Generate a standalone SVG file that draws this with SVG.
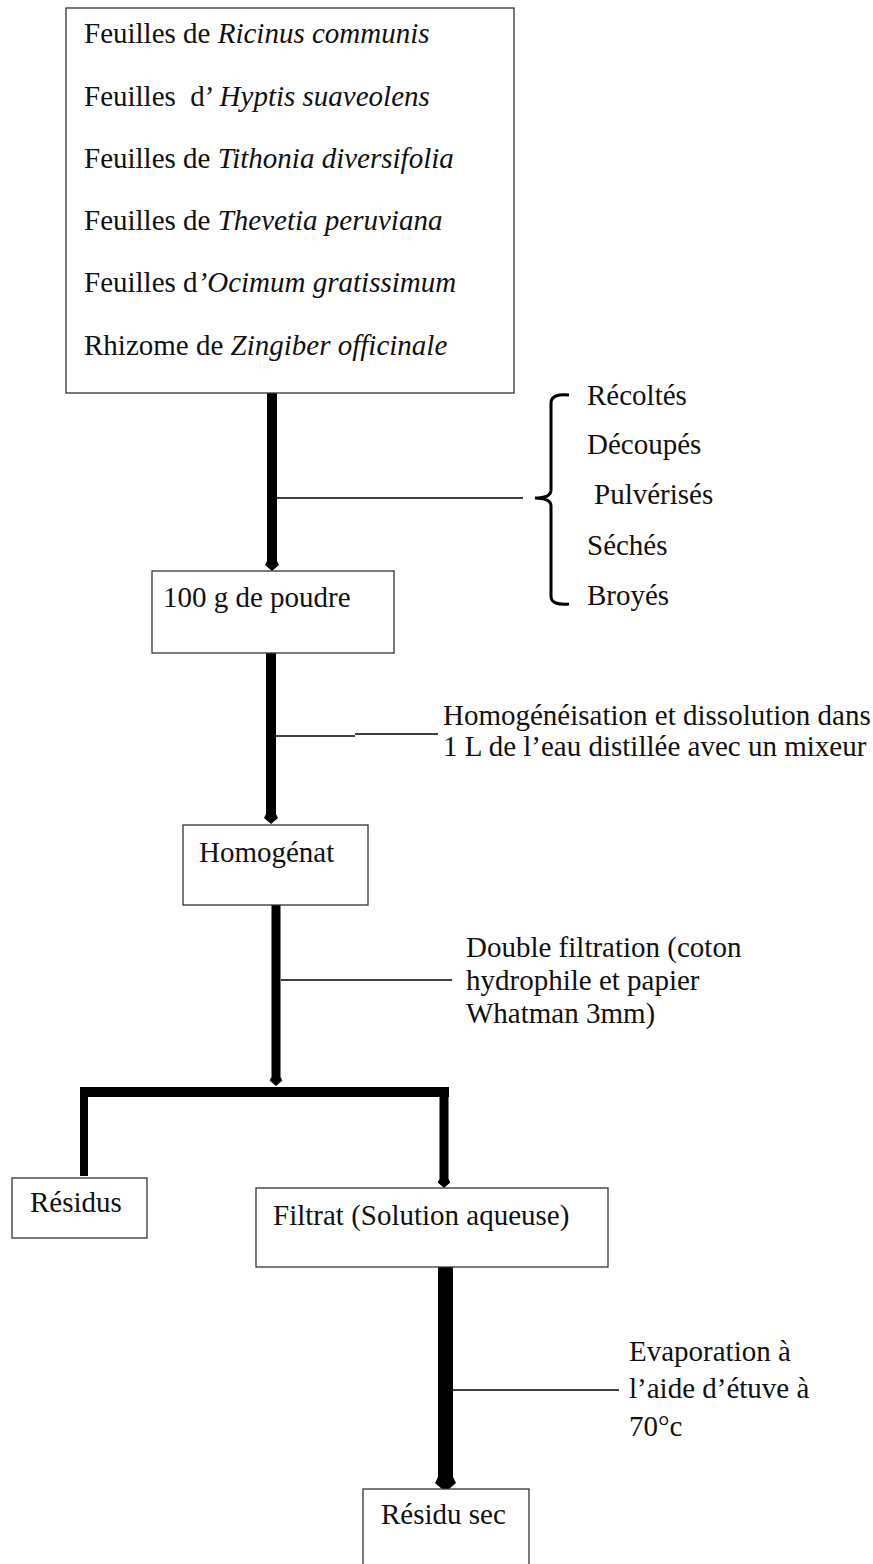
<svg xmlns="http://www.w3.org/2000/svg" width="873" height="1564" viewBox="0 0 873 1564">
<style>
text{font-family:"Liberation Serif","Times New Roman",serif;font-size:29px;fill:#111}
.it{font-style:italic}
.box{fill:#fff;stroke:#333;stroke-width:1.3}
.thick{fill:none;stroke:#000;stroke-linecap:butt}
.thin{fill:none;stroke:#000;stroke-width:1.5}
.brace{fill:none;stroke:#000;stroke-width:3}
</style>
<defs>
<marker id="tip" markerUnits="strokeWidth" markerWidth="1" markerHeight="1.5" viewBox="0 0 10 15" refX="0" refY="7.5" orient="auto" overflow="visible">
<path d="M0,2.5 L4,0.5 L10,7.5 L4,14.5 L0,12.5 Z" fill="#000"/>
</marker>
</defs>
<rect width="873" height="1564" fill="#fff"/>
<g id="connectors">
<path class="thick" d="M272,393 V561" stroke-width="10" marker-end="url(#tip)"/>
<path class="thin" d="M277,498 H523" stroke-width="3"/>
<path class="brace" d="M569,395 C558,394 551,396 551,403 V490 C551,496 545,498 535,498 C545,498 551,500 551,506 V596 C551,603 558,605 569,604"/>
<path class="thick" d="M271,653 V814" stroke-width="10" marker-end="url(#tip)"/>
<path class="thin" d="M276,736 H355 M355,734 H438"/>
<path class="thick" d="M276,905 V1077" stroke-width="9" marker-end="url(#tip)"/>
<path class="thin" d="M281,980 H452"/>
<path class="thick" d="M82,1092 H449" stroke-width="10"/>
<path class="thick" d="M84,1087 V1176" stroke-width="8"/>
<path class="thick" d="M444,1087 V1179" stroke-width="9" marker-end="url(#tip)"/>
<path class="thick" d="M445.5,1267 V1477" stroke-width="15" marker-end="url(#tip)"/>
<path class="thin" d="M453,1390 H619"/>
</g>
<g id="plantes">
<rect class="box" x="66" y="8" width="448" height="385"/>
<text x="84" y="43">Feuilles de <tspan class="it">Ricinus communis</tspan></text>
<text x="84" y="106" xml:space="preserve">Feuilles  d’ <tspan class="it">Hyptis suaveolens</tspan></text>
<text x="84" y="168">Feuilles de <tspan class="it">Tithonia diversifolia</tspan></text>
<text x="84" y="230">Feuilles de <tspan class="it">Thevetia peruviana</tspan></text>
<text x="84" y="292">Feuilles d<tspan class="it">’Ocimum gratissimum</tspan></text>
<text x="84" y="355">Rhizome de <tspan class="it">Zingiber officinale</tspan></text>
</g>
<g id="etapes">
<text x="587" y="405">Récoltés</text>
<text x="587" y="454">Découpés</text>
<text x="594" y="504">Pulvérisés</text>
<text x="587" y="555">Séchés</text>
<text x="587" y="605">Broyés</text>
</g>
<g id="poudre">
<rect class="box" x="152" y="571" width="242" height="82"/>
<text x="163" y="607">100 g de poudre</text>
</g>
<g id="label-homogeneisation">
<text x="443" y="725">Homogénéisation et dissolution dans</text>
<text x="443" y="756">1 L de l’eau distillée avec un mixeur</text>
</g>
<g id="homogenat">
<rect class="box" x="183" y="825" width="185" height="80"/>
<text x="199" y="862">Homogénat</text>
</g>
<g id="label-filtration">
<text x="466" y="957">Double filtration (coton</text>
<text x="466" y="990">hydrophile et papier</text>
<text x="466" y="1023">Whatman 3mm)</text>
</g>
<g id="residus">
<rect class="box" x="12" y="1178" width="135" height="60"/>
<text x="30" y="1212">Résidus</text>
</g>
<g id="filtrat">
<rect class="box" x="256" y="1188" width="352" height="79"/>
<text x="273" y="1225">Filtrat (Solution aqueuse)</text>
</g>
<g id="label-evaporation">
<text x="629" y="1361">Evaporation à</text>
<text x="629" y="1398">l’aide d’étuve à</text>
<text x="629" y="1436">70°c</text>
</g>
<g id="residu-sec">
<rect class="box" x="363" y="1489" width="166" height="90"/>
<text x="381" y="1524">Résidu sec</text>
</g>
</svg>
